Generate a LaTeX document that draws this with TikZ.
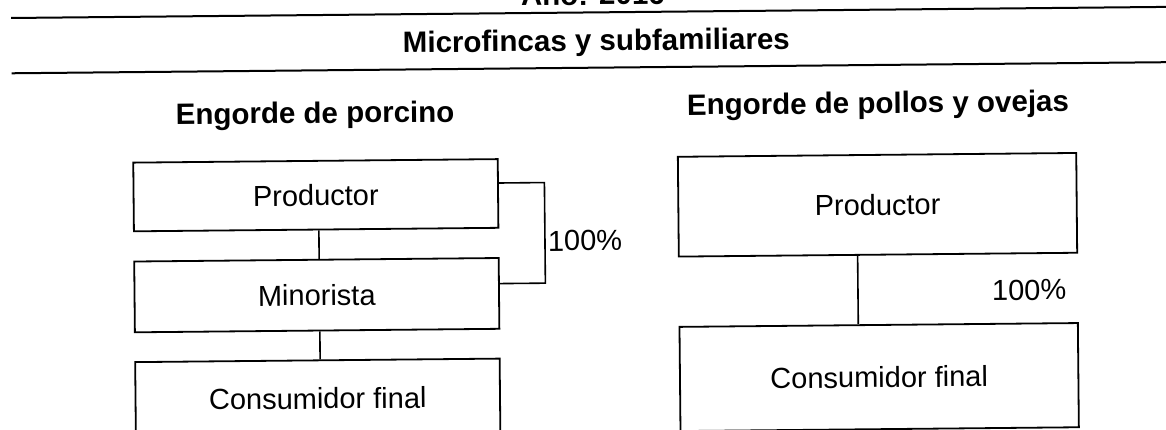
\documentclass[tikz,border=0pt]{standalone}
\usepackage{fontspec}
\setmainfont{Liberation Sans}
\begin{document}
\begin{tikzpicture}[x=1pt,y=-1pt,
  rule/.style={line width=2pt},
  chainbox/.style={draw, line width=1.8pt, inner sep=0pt, text height=21pt, text depth=0pt,
    font=\fontsize{29}{34}\selectfont},
  head/.style={inner sep=0pt, anchor=base, font=\fontsize{29.5}{34}\selectfont\bfseries},
  pct/.style={inner sep=0pt, anchor=base west, font=\fontsize{29}{34}\selectfont},
  link/.style={line width=1.6pt}]
\useasboundingbox (0,0) rectangle (1166,429);
\begin{scope}[rotate around={0.55:(583,214)}, transform shape]
  % title rules
  \coordinate (r1a) at (13,12.5);
  \coordinate (r1b) at (1180,12.5);
  \coordinate (r2a) at (13,67.8);
  \coordinate (r2b) at (1180,67.8);
  \draw[rule] (r1a) -- (r1b);
  \draw[rule] (r2a) -- (r2b);
  \node[head] (anio) at (595,5.1) {Año: 2016};
  \node[head] (micro) at (598,50.9) {Microfincas y subfamiliares};
  % headings
  \node[head] (hleft) at (316,120.7) {Engorde de porcino};
  \node[head] (hright) at (879,116) {Engorde de pollos y ovejas};
  % left chain
  \node[chainbox, minimum width=364.5pt, minimum height=68.7pt] (prod1) at (316,192.65) {Productor};
  \node[chainbox, minimum width=364.5pt, minimum height=70.8pt] (mino1) at (316,292.6) {Minorista};
  \node[chainbox, minimum width=364.5pt, minimum height=76.2pt] (cons1) at (316,395.9) {Consumidor final};
  \draw[link] ([xshift=2.75pt]prod1.south) -- ([xshift=2.75pt]mino1.north);
  \draw[link] ([xshift=2.75pt]mino1.south) -- ([xshift=2.75pt]cons1.north);
  \draw[link] ([yshift=-24.8pt]prod1.north east) -- ++(45.6,0) |- ([yshift=-26.5pt]mino1.north east);
  \node[pct] (pleft) at (547.5,250.7) {100\%};
  % right chain
  \node[chainbox, minimum width=398.4pt, minimum height=99.8pt] (prod2) at (877.6,207.6) {Productor};
  \node[chainbox, minimum width=398.4pt, minimum height=104.2pt] (cons2) at (877.6,379.9) {Consumidor final};
  \draw[link] ([xshift=-20.3pt]prod2.south) -- ([xshift=-20.3pt]cons2.north);
  \node[pct] (pright) at (991.1,304.3) {100\%};
\end{scope}
\end{tikzpicture}
\end{document}
